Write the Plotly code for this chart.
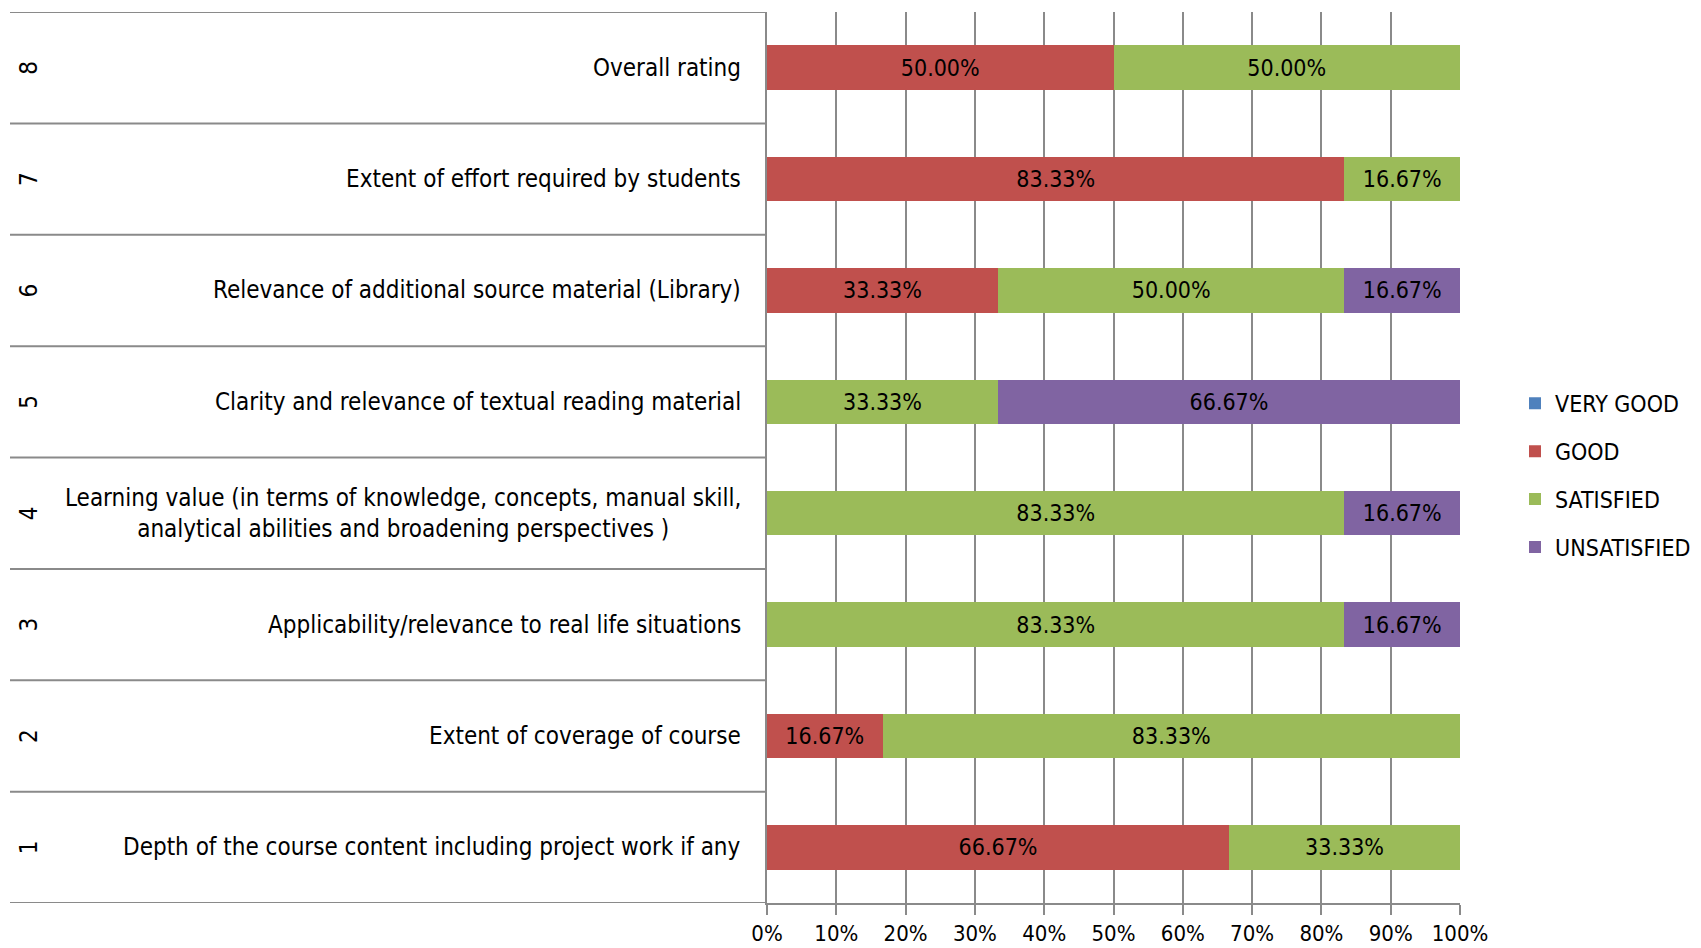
import plotly.graph_objects as go

numbers = ["1", "2", "3", "4", "5", "6", "7", "8"]
categories = [
    "Depth of the course content including project work if any",
    "Extent of coverage of course",
    "Applicability/relevance to real life situations",
    "Learning value (in terms of knowledge, concepts, manual skill,<br>analytical abilities and broadening perspectives )",
    "Clarity and relevance of textual reading material",
    "Relevance of additional source material (Library)",
    "Extent of effort required by students",
    "Overall rating",
]
very_good = [0, 0, 0, 0, 0, 0, 0, 0]
good = [66.67, 16.67, 0, 0, 0, 33.33, 83.33, 50.00]
satisfied = [33.33, 83.33, 83.33, 83.33, 33.33, 50.00, 16.67, 50.00]
unsatisfied = [0, 0, 16.67, 16.67, 66.67, 16.67, 0, 0]
x_ticks = [0, 10, 20, 30, 40, 50, 60, 70, 80, 90, 100]
x_tick_labels = ["0%", "10%", "20%", "30%", "40%", "50%", "60%", "70%", "80%", "90%", "100%"]

series = [
    ("VERY GOOD", very_good, "#4F81BD"),
    ("GOOD", good, "#C0504D"),
    ("SATISFIED", satisfied, "#9BBB59"),
    ("UNSATISFIED", unsatisfied, "#8064A2"),
]

FONT = "Liberation Sans Narrow, DejaVu Sans Condensed, Arial Narrow, sans-serif"
GRID = "#8a8a8a"

W, H = 1701, 948
ML, MR, MT, MB = 767, 241, 12, 45
PW = W - ML - MR

fig = go.Figure()
for name, vals, col in series:
    fig.add_trace(go.Bar(
        y=categories, x=vals, name=name, orientation="h",
        marker=dict(color=col, line=dict(width=0)),
        text=[f"{v:.2f}%" if v > 0 else "" for v in vals],
        textposition="inside", insidetextanchor="middle",
        textfont=dict(family=FONT, size=23, color="black"),
        constraintext="none", legendgroup=name,
        hoverinfo="x+y+name",
    ))

annotations = []
for num, cat in zip(numbers, categories):
    annotations.append(dict(
        x=0, xref="paper", xanchor="right", xshift=-24,
        y=cat, yref="y", text=cat, showarrow=False, align="center",
        font=dict(family=FONT, size=24, color="black"),
    ))
    annotations.append(dict(
        x=(29 - ML) / PW, xref="paper", xanchor="center",
        y=cat, yref="y", text=num, showarrow=False, textangle=-90,
        font=dict(family=FONT, size=24, color="black"),
    ))

shapes = []
for i in range(len(categories) + 1):
    shapes.append(dict(
        type="line", xref="paper", x0=(10 - ML) / PW, x1=0,
        yref="y", y0=i - 0.5, y1=i - 0.5,
        line=dict(color=GRID, width=2), layer="below",
    ))

fig.update_layout(
    width=W, height=H, barmode="stack", bargap=0.6,
    margin=dict(l=ML, r=MR, t=MT, b=MB, autoexpand=False),
    plot_bgcolor="white", paper_bgcolor="white",
    font=dict(family=FONT, size=23, color="black"),
    xaxis=dict(
        range=[0, 100], tickvals=x_ticks, ticktext=x_tick_labels,
        showgrid=True, gridcolor=GRID, gridwidth=1.5,
        showline=True, linecolor=GRID, linewidth=2,
        ticks="outside", ticklen=10, tickcolor=GRID, tickwidth=2,
        zeroline=False, tickfont=dict(family=FONT, size=22),
    ),
    yaxis=dict(
        type="category", categoryorder="array", categoryarray=categories,
        range=[-0.5, len(categories) - 0.5],
        showticklabels=False, showgrid=False,
        showline=True, linecolor=GRID, linewidth=2, zeroline=False,
    ),
    legend=dict(
        x=(1515 - ML) / PW, xanchor="left", y=0.48, yanchor="middle",
        traceorder="grouped", tracegroupgap=15,
        font=dict(family=FONT, size=23, color="black"),
        itemwidth=30,
    ),
    annotations=annotations, shapes=shapes,
)

fig.write_html(
    "out.html",
    config={"displayModeBar": False},
    post_script="document.body.style.margin='0';document.body.style.overflow='hidden';",
)
